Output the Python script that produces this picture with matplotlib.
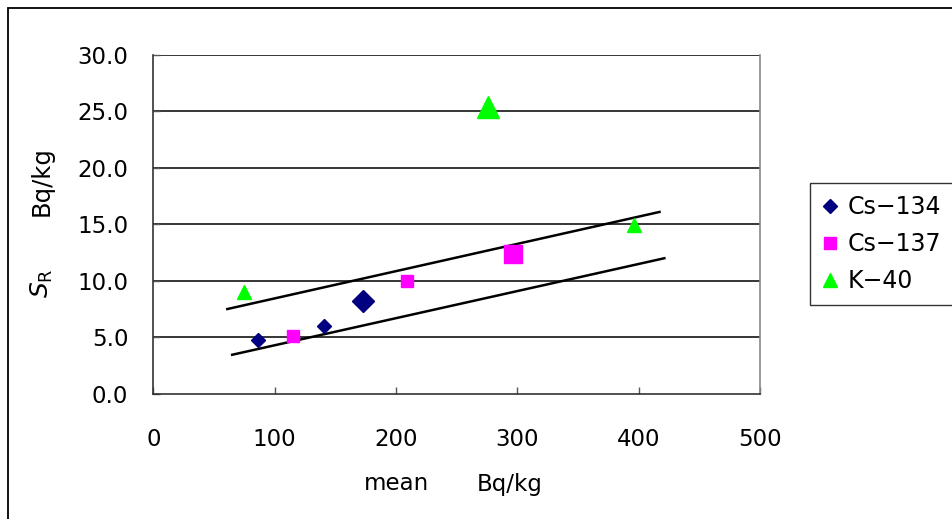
import matplotlib.pyplot as plt
from matplotlib.patches import Rectangle

plt.rcParams['font.family'] = ['DejaVu Sans']
plt.rcParams['mathtext.fontset'] = 'custom'
plt.rcParams['mathtext.rm'] = 'DejaVu Sans'
plt.rcParams['mathtext.it'] = 'DejaVu Sans:italic'

# measured values: mean activity (Bq/kg) vs reproducibility S_R (Bq/kg)
cs134_x = [86, 141, 173]
cs134_y = [4.8, 6.0, 8.2]
cs134_size = [7.1, 7.1, 10.8]

cs137_x = [115, 209, 296]
cs137_y = [5.1, 10.0, 12.4]
cs137_size = [8.4, 8.4, 13.5]

k40_x = [75, 276, 396]
k40_y = [9.0, 25.4, 14.9]
k40_size = [10.0, 16.0, 10.0]

# guide lines
upper_x = [61, 417]
upper_y = [7.5, 16.1]
lower_x = [65, 421]
lower_y = [3.45, 12.0]

xticks = [0, 100, 200, 300, 400, 500]
yticks = [0, 5, 10, 15, 20, 25, 30]

fig = plt.figure(figsize=(9.52, 5.19), dpi=100)
ax = fig.add_axes([0.161, 0.2414, 0.6376, 0.6526])

for y in yticks[1:]:
    ax.axhline(y, color='black', lw=1.1, zorder=1)

ax.plot(upper_x, upper_y, color='black', lw=1.8, zorder=2)
ax.plot(lower_x, lower_y, color='black', lw=1.8, zorder=2)

for x, y, s in zip(cs134_x, cs134_y, cs134_size):
    ax.plot(x, y, 'D', color='#000080', ms=s, mec='#000080', zorder=3)
for x, y, s in zip(cs137_x, cs137_y, cs137_size):
    ax.plot(x, y, 's', color='#FF00FF', ms=s, mec='#FF00FF', zorder=3)
for x, y, s in zip(k40_x, k40_y, k40_size):
    ax.plot(x, y, '^', color='#00FF00', ms=s, mec='#00FF00', zorder=3)

ax.set_xlim(0, 500)
ax.set_ylim(0, 30)
ax.set_xticks(xticks)
ax.set_xticklabels([str(v) for v in xticks])
ax.set_yticks(yticks)
ax.set_yticklabels([f'{v:.1f}' for v in yticks])
ax.tick_params(axis='x', direction='in', length=5, width=1, color='#555555',
               labelsize=16.5, pad=25)
ax.tick_params(axis='y', direction='in', length=5, width=1, color='#555555',
               labelsize=16.5, pad=18)
ax.spines['top'].set_visible(False)
for side in ['left', 'bottom']:
    ax.spines[side].set_color('#333333')
    ax.spines[side].set_linewidth(1.2)
ax.spines['right'].set_color('#888888')
ax.spines['right'].set_linewidth(1.2)

# axis titles
fig.text(397 / 952, 1 - 484 / 519, 'mean', ha='center', va='center', fontsize=16.5)
fig.text(510 / 952, 1 - 484 / 519, 'Bq/kg', ha='center', va='center', fontsize=16.5)
fig.text(42 / 952, 1 - 181 / 519, 'Bq/kg', ha='center', va='center',
         rotation=90, fontsize=17.5)
fig.text(42 / 952, 1 - 283 / 519, r'$\mathit{S}_{\mathrm{R}}$', ha='center',
         va='center', rotation=90, fontsize=18)

# legend
handles = [
    plt.Line2D([], [], ls='none', marker='D', color='#000080', ms=7),
    plt.Line2D([], [], ls='none', marker='s', color='#FF00FF', ms=8),
    plt.Line2D([], [], ls='none', marker='^', color='#00FF00', ms=10),
]
leg = fig.legend(handles, ['Cs\u2212134', 'Cs\u2212137', 'K\u221240'],
                 loc='upper left', bbox_to_anchor=(810 / 952, 1 - 183 / 519),
                 fontsize=17, frameon=True, fancybox=False, handlelength=0.7,
                 handletextpad=0.4, borderpad=0.5, labelspacing=0.55,
                 borderaxespad=0)
leg.get_frame().set_edgecolor('black')
leg.get_frame().set_linewidth(1.0)

# outer chart border
fig.patches.append(Rectangle((8 / 952, -0.1), 1.2, 1.1 - 8 / 519,
                             transform=fig.transFigure, fill=False,
                             edgecolor='black', lw=1.3))

fig.savefig('out.png', dpi=100)
